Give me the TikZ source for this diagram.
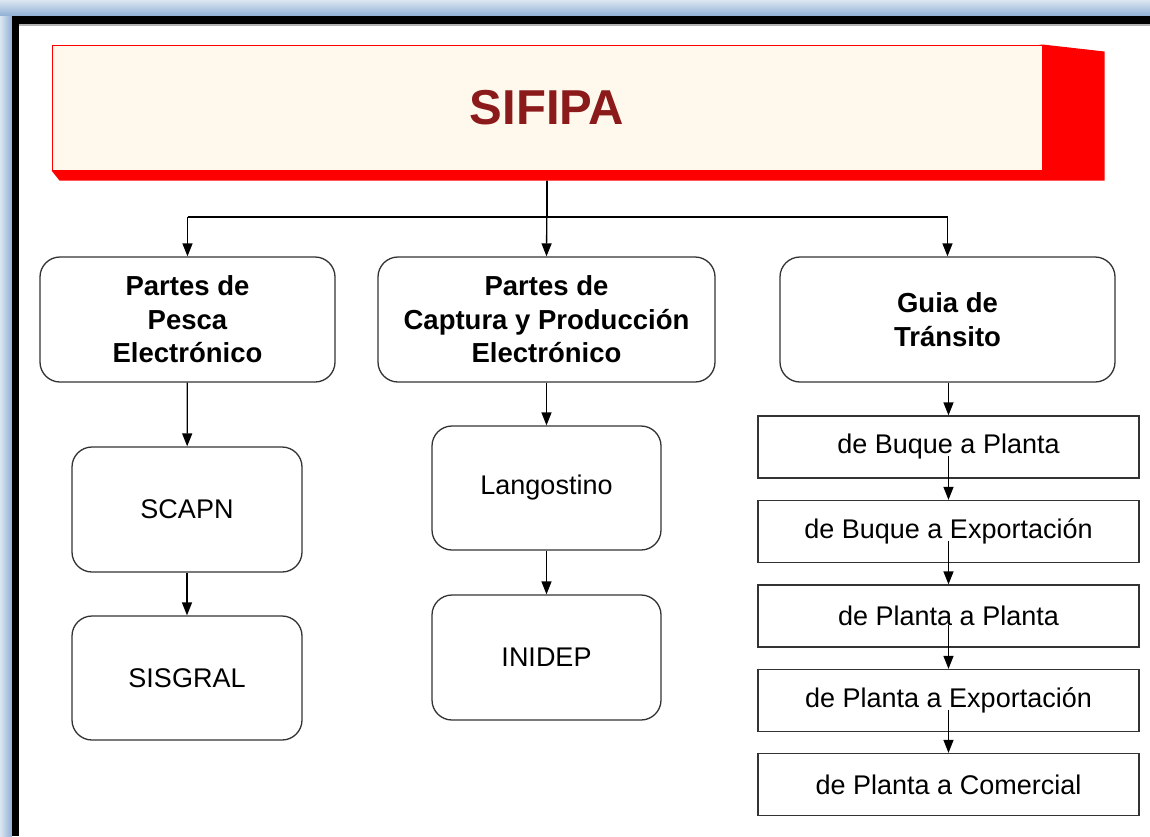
\documentclass[tikz,border=0pt]{standalone}
\usepackage{fontspec}
\setmainfont{Liberation Sans}
\usetikzlibrary{arrows.meta, positioning, calc, backgrounds}
\definecolor{frameblue}{HTML}{8FAFD4}
\definecolor{framelight}{HTML}{DCE6F1}
\definecolor{cream}{HTML}{FFF8EC}
\definecolor{titlered}{HTML}{8B1A1A}
\definecolor{edge}{HTML}{333333}

\tikzset{
  rbox/.style={draw=edge, line width=1.3pt, rounded corners=20pt, fill=white,
    align=center, font=\fontsize{27}{33}\selectfont},
  headbox/.style={rbox, font=\fontsize{27.5}{33.5}\selectfont\bfseries},
  gbox/.style={draw=edge, line width=1.3pt, fill=white, minimum width=381pt,
    minimum height=62pt, font=\fontsize{27}{30}\selectfont},
  link/.style={line width=1.3pt, -{Triangle[length=13pt,width=10pt]}},
}

\begin{document}
\begin{tikzpicture}[x=1pt, y=-1pt]
    \useasboundingbox (0,0) rectangle (1150,836);
    % window frame
    \shade[top color=framelight, bottom color=frameblue] (0,0) rectangle (1150,16);
    \shade[left color=framelight, right color=frameblue] (0,16) rectangle (12,836);
    \fill[black] (12,16) rectangle (1150,24);
    \fill[black] (12,16) rectangle (19,836);
    \fill[gray!60] (19,24) rectangle (1150,25.5);
    % title
    \node[draw=red, line width=1pt, fill=cream, minimum width=990pt, minimum height=125pt,
      font=\fontsize{49}{52}\selectfont\bfseries, text=titlered] (sifipa) at (547,107.5) {SIFIPA};
    \begin{scope}[on background layer]
      \fill[red] (sifipa.north east) -- ++(62,7) |- ($(sifipa.south west)+(8,10)$)
        -- (sifipa.south west) -- cycle;
    \end{scope}
    % first level
    \node[headbox, minimum width=295pt, minimum height=125pt] (pesca) at (187.5,319.5)
      {Partes de\\Pesca\\Electrónico};
    \node[headbox, minimum width=337pt, minimum height=125pt] (captura) at (546.5,319.5)
      {Partes de\\Captura y Producción\\Electrónico};
    \node[headbox, minimum width=335pt, minimum height=125pt] (guia) at (947.5,319.5)
      {Guia de\\Tránsito};
    \coordinate (split) at (547,217);
    \draw[line width=1.3pt] (sifipa.south) ++(0,10) -- (split);
    \draw[line width=1.3pt] (pesca.north |- split) -- (guia.north |- split);
    \draw[link] (pesca.north |- split) -- (pesca.north);
    \draw[link] ($(sifipa.south)+(0,10)$) -- (captura.north);
    \draw[link] (guia.north |- split) -- (guia.north);
    % pesca column
    \node[rbox, minimum width=230pt, minimum height=125pt] (scapn) at (187,509.5) {SCAPN};
    \node[rbox, minimum width=230pt, minimum height=124pt] (sisgral) at (187,678) {SISGRAL};
    \draw[link] (pesca) -- (scapn);
    \draw[link] (scapn) -- (sisgral);
    % captura column
    \node[rbox, minimum width=229pt, minimum height=124pt] (langostino) at (546.5,488) {Langostino};
    \node[rbox, minimum width=229pt, minimum height=125pt] (inidep) at (546.5,657.5) {INIDEP};
    \draw[link] (captura) -- (langostino);
    \draw[link] (langostino) -- (inidep);
    % guia column
    \node[gbox] (g1) at (948.5,447) {de Buque a Planta};
    \node[gbox] (g2) at (948.5,531.5) {de Buque a Exportación};
    \node[gbox] (g3) at (948.5,616) {de Planta a Planta};
    \node[gbox] (g4) at (948.5,700.5) {de Planta a Exportación};
    \node[gbox] (g5) at (948.5,784.5) {de Planta a Comercial};
    \draw[link] (guia.south -| g1.north) -- (g1.north);
    \foreach \a/\b in {g1/g2, g2/g3, g3/g4, g4/g5}
      \draw[link] ([yshift=-9pt]\a.center) -- (\b.north);
  \end{tikzpicture}
\end{document}
